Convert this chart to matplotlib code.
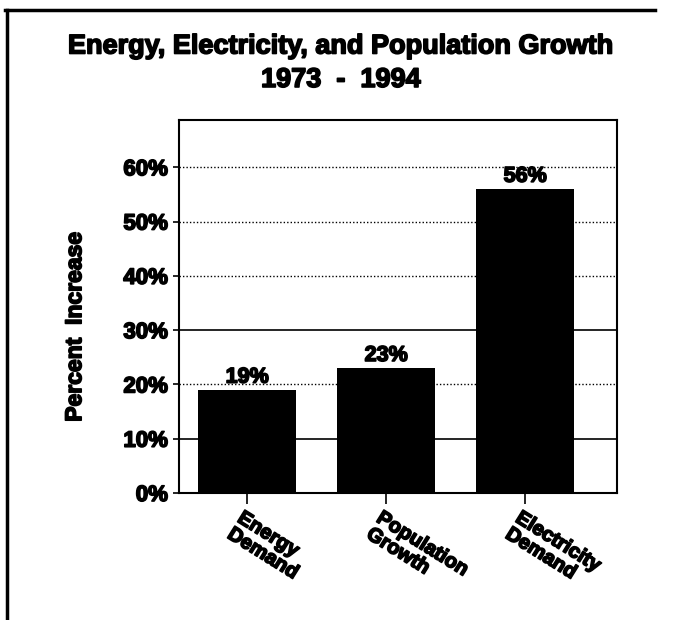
import matplotlib
matplotlib.use("Agg")
import matplotlib.pyplot as plt
import matplotlib.patheffects as pe
from matplotlib.lines import Line2D
from matplotlib.ticker import FuncFormatter

categories = ["Energy\nDemand", "Population\nGrowth", "Electricity\nDemand"]
values = [19, 23, 56]
value_labels = ["19%", "23%", "56%"]
y_ticks = [0, 10, 20, 30, 40, 50, 60]

plt.rcParams['font.family'] = ['Liberation Sans', 'DejaVu Sans']
FW = 'bold'
heavy = [pe.withStroke(linewidth=1.2, foreground='black')]

fig = plt.figure(figsize=(6.82, 6.2), dpi=100)
ax = fig.add_axes([0.2625, 0.2048, 0.642, 0.6016])

x = list(range(len(categories)))

# gridlines: solid at 10% and 30%, dotted elsewhere
for t in y_ticks[1:]:
    if t in (10, 30):
        ax.axhline(t, color='black', lw=1.2, zorder=1)
    else:
        ax.axhline(t, color='black', lw=1.0, ls=(0, (1, 1.5)), zorder=1)

ax.bar(x, values, width=0.705, color='black', zorder=3)

for xi, v, lab in zip(x, values, value_labels):
    ax.text(xi, v + 0.4, lab, ha='center', va='bottom', fontsize=15.5,
            fontweight=FW, zorder=4, path_effects=heavy)

ax.set_xlim(-0.49, 2.66)
ax.set_ylim(0, 68.7)
ax.set_yticks(y_ticks)
ax.yaxis.set_major_formatter(FuncFormatter(lambda v, p: f"{int(v)}%"))
ax.tick_params(axis='y', length=4, width=1.2, labelsize=16, pad=4)
for lbl in ax.get_yticklabels():
    lbl.set_fontweight(FW)
    lbl.set_path_effects(heavy)

ax.set_xticks(x)
ax.set_xticklabels([])
ax.tick_params(axis='x', length=8, width=1.2, direction='out')

for xi, cat in zip(x, categories):
    ax.annotate(cat, xy=(xi, 0), xycoords=('data', 'axes fraction'),
                xytext=(-2, -11), textcoords='offset points',
                rotation=-32, rotation_mode='anchor', ha='left', va='top',
                multialignment='left', fontsize=14.5, fontweight=FW,
                linespacing=1.0, path_effects=heavy)

for s in ax.spines.values():
    s.set_linewidth(1.5)

ax.set_ylabel("Percent  Increase", fontsize=16.5, fontweight=FW,
              path_effects=heavy)
ax.yaxis.set_label_coords(-0.212, 0.445)

fig.text(0.5, 0.925, "Energy, Electricity, and Population Growth",
         ha='center', va='center', fontsize=19.5, fontweight=FW,
         path_effects=heavy)
fig.text(0.5, 0.871, "1973  -  1994", ha='center', va='center',
         fontsize=19.5, fontweight=FW, path_effects=heavy)

# page frame: top rule and left rule
fig.add_artist(Line2D([0.008, 0.96], [0.984, 0.984], color='black', lw=2.5,
                      transform=fig.transFigure))
fig.add_artist(Line2D([0.010, 0.010], [0.984, 0.0], color='black', lw=2.5,
                      transform=fig.transFigure))

fig.savefig("out.png", dpi=100, facecolor='white')
